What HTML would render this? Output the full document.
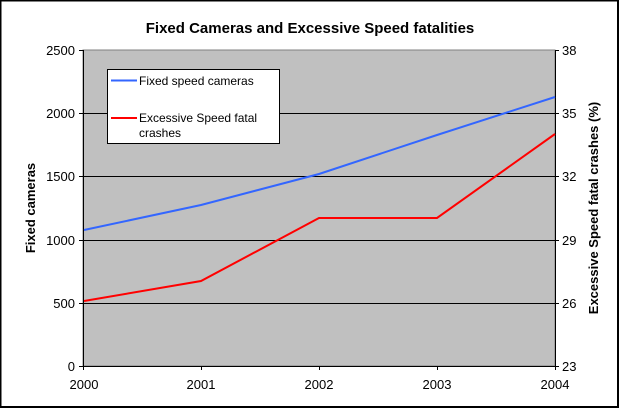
<!DOCTYPE html>
<html><head><style>body{margin:0;background:#fff}</style></head><body>
<svg width="621" height="412" viewBox="0 0 621 412" xmlns="http://www.w3.org/2000/svg" font-family="Liberation Sans, sans-serif">
<rect x="0.5" y="0.5" width="617.5" height="406.5" fill="#fff" stroke="#000" stroke-width="2"/>
<text x="310" y="33" text-anchor="middle" font-size="15" font-weight="bold">Fixed Cameras and Excessive Speed fatalities</text>
<rect x="83" y="50" width="472" height="316" fill="#c0c0c0" stroke="#808080"/>
<g stroke="#000" stroke-width="1">
<line x1="83" y1="113.5" x2="555" y2="113.5"/><line x1="83" y1="176.5" x2="555" y2="176.5"/>
<line x1="83" y1="240.5" x2="555" y2="240.5"/><line x1="83" y1="303.5" x2="555" y2="303.5"/>
<line x1="83.5" y1="50" x2="83.5" y2="366"/><line x1="555.5" y1="50" x2="555.5" y2="366"/>
<line x1="83" y1="366.5" x2="555" y2="366.5"/>
<line x1="79" y1="50.5" x2="83" y2="50.5"/><line x1="79" y1="113.5" x2="83" y2="113.5"/><line x1="79" y1="176.5" x2="83" y2="176.5"/><line x1="79" y1="240.5" x2="83" y2="240.5"/><line x1="79" y1="303.5" x2="83" y2="303.5"/><line x1="79" y1="366.5" x2="83" y2="366.5"/>
<line x1="555" y1="50.5" x2="559" y2="50.5"/><line x1="555" y1="113.5" x2="559" y2="113.5"/><line x1="555" y1="176.5" x2="559" y2="176.5"/><line x1="555" y1="240.5" x2="559" y2="240.5"/><line x1="555" y1="303.5" x2="559" y2="303.5"/><line x1="555" y1="366.5" x2="559" y2="366.5"/>
<line x1="83.5" y1="366" x2="83.5" y2="370"/><line x1="201.5" y1="366" x2="201.5" y2="370"/><line x1="319.5" y1="366" x2="319.5" y2="370"/><line x1="437.5" y1="366" x2="437.5" y2="370"/><line x1="555.5" y1="366" x2="555.5" y2="370"/>
</g>
<g font-size="13" text-anchor="end">
<text x="75" y="55">2500</text><text x="75" y="118">2000</text><text x="75" y="181">1500</text><text x="75" y="245">1000</text><text x="75" y="308">500</text><text x="75" y="371">0</text>
</g>
<g font-size="13">
<text x="562" y="55">38</text><text x="562" y="118">35</text><text x="562" y="181">32</text><text x="562" y="245">29</text><text x="562" y="308">26</text><text x="562" y="371">23</text>
</g>
<g font-size="13" text-anchor="middle">
<text x="84" y="389">2000</text><text x="201" y="389">2001</text><text x="319" y="389">2002</text><text x="437" y="389">2003</text><text x="555" y="389">2004</text>
</g>
<text transform="translate(35,208) rotate(-90)" text-anchor="middle" font-size="13" font-weight="bold">Fixed cameras</text>
<text transform="translate(598,208) rotate(-90)" text-anchor="middle" font-size="13" font-weight="bold">Excessive Speed fatal crashes (%)</text>
<polyline points="84,230 201,205 319,174 437,135 555,97" fill="none" stroke="#3366ff" stroke-width="2"/>
<polyline points="84,301 201,281 319,218 437,218 555,134" fill="none" stroke="#ff0000" stroke-width="2"/>
<rect x="107.5" y="69.5" width="172" height="74" fill="#fff" stroke="#000"/>
<line x1="111" y1="80.5" x2="137" y2="80.5" stroke="#3366ff" stroke-width="2"/>
<line x1="111" y1="118" x2="137" y2="118" stroke="#ff0000" stroke-width="2"/>
<g font-size="12"><text x="139" y="85">Fixed speed cameras</text><text x="139" y="122">Excessive Speed fatal</text><text x="139" y="137">crashes</text></g>
</svg>
</body></html>
